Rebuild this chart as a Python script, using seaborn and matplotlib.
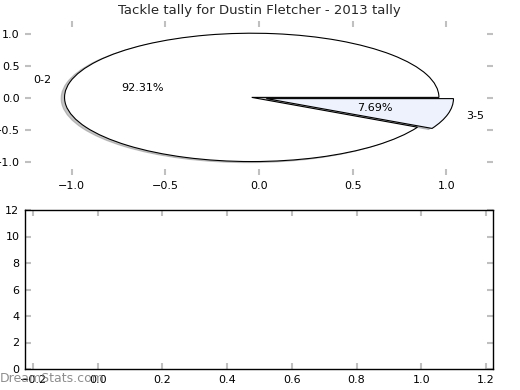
import matplotlib
matplotlib.use("Agg")
import matplotlib.pyplot as plt
import seaborn as sns

labels = ["0-2", "3-5"]
values = [92.31, 7.69]
colors = ["#ffffff", "#edf2fc"]
explode = [0.04, 0.04]
title = "Tackle tally for Dustin Fletcher - 2013 tally"
xticks_top = [-1.0, -0.5, 0.0, 0.5, 1.0]
yticks_top = [-1.0, -0.5, 0.0, 0.5, 1.0]
xticks_bottom = [-0.2, 0.0, 0.2, 0.4, 0.6, 0.8, 1.0, 1.2]
yticks_bottom = [0, 2, 4, 6, 8, 10, 12]

sns.set_style("white")
plt.rcParams['font.family'] = ['DejaVu Sans']

fig = plt.figure(figsize=(5.2, 3.9), dpi=100)
W, H = 520, 390
ax1 = fig.add_axes([25 / W, (H - 175) / H, 468 / W, 154 / H])
ax2 = fig.add_axes([25 / W, (H - 369) / H, 468 / W, 159 / H])

wedges, texts, autotexts = ax1.pie(
    values, labels=labels, colors=colors, explode=explode, autopct="%.2f%%",
    shadow=dict(ox=-0.013, oy=-0.012, shade=0.45), startangle=0, frame=True,
    wedgeprops=dict(edgecolor="black", linewidth=0.8),
    textprops=dict(fontsize=8, color="black"))
ax1.set_aspect("auto")
ax1.set_xlim(-1.25, 1.25)
ax1.set_ylim(-1.2, 1.2)
ax1.set_xticks(xticks_top)
ax1.set_yticks(yticks_top)
for s in ax1.spines.values():
    s.set_visible(False)
ax1.set_title(title, fontsize=9.5, pad=5)

ax2.set_xlim(-0.225, 1.222)
ax2.set_ylim(0, 12)
ax2.set_xticks(xticks_bottom)
ax2.set_yticks(yticks_bottom)
for s in ax2.spines.values():
    s.set_visible(True)
    s.set_color("black")
    s.set_linewidth(1.0)

for ax in (ax1, ax2):
    ax.tick_params(axis="both", which="both", direction="in", length=4, width=1.5,
                   color="#c0c0c0", labelsize=8, labelcolor="black",
                   top=True, right=True, bottom=True, left=True, pad=4)
    ax.set_xticklabels([f"{t:.1f}".replace("-", "\u2212") for t in ax.get_xticks()])
ax1.set_yticklabels([f"{t:.1f}".replace("-", "\u2212") for t in yticks_top])
ax2.set_yticklabels([str(t) for t in yticks_bottom])

fig.text(0.0, 0.012, "DreamStats.com", fontsize=9, color="#7a7a7a", alpha=0.85,
         ha="left", va="bottom")

fig.savefig("out.png", dpi=100)
